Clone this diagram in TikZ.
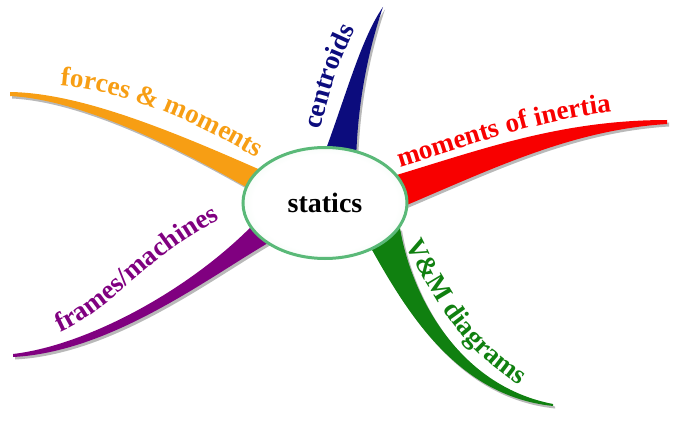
\documentclass[tikz,border=0pt]{standalone}
\usepackage{fontspec}
\setmainfont{Liberation Serif}
\usetikzlibrary{decorations.text,shapes.geometric}
\definecolor{cOrange}{RGB}{247,158,20}
\definecolor{cNavy}{RGB}{12,12,125}
\definecolor{cRed}{RGB}{248,0,0}
\definecolor{cGreen}{RGB}{16,128,16}
\definecolor{cPurple}{RGB}{128,0,128}
\definecolor{cRim}{RGB}{90,185,120}
\definecolor{cCore}{RGB}{190,230,200}
\definecolor{cShade}{RGB}{185,185,185}
\pgfdeclareradialshading{hubshade}{\pgfpoint{0bp}{0bp}}{color(0bp)=(white); color(22bp)=(white); color(50bp)=(cCore)}
\newcommand\labfont{\fontsize{27.2}{30}\selectfont\bfseries}
\newcommand\bandOrange{(10,92) .. controls (80,93) and (170,130) .. (265,172) -- (265,198) .. controls (200,160) and (90,100) .. (10,96) -- cycle}
\newcommand\bandNavy{(383,7) .. controls (360,40) and (345,100) .. (320,165) -- (356,165) .. controls (357,100) and (370,45) .. (383,7) -- cycle}
\newcommand\bandRed{(390,177) .. controls (480,150) and (560,120) .. (667,120) -- (667,124) .. controls (570,130) and (490,170) .. (395,210) -- cycle}
\newcommand\bandGreen{(362,232) .. controls (400,300) and (450,395) .. (553,406) -- (553,404) .. controls (455,385) and (410,290) .. (400,228) -- cycle}
\newcommand\bandPurple{(13,354) .. controls (90,345) and (200,285) .. (265,212) -- (268,243) .. controls (205,280) and (110,352) .. (13,357) -- cycle}
\begin{document}
\begin{tikzpicture}[x=1pt,y=-1pt,
  shadowband/.style={fill=cShade, xshift=2pt, yshift=-2.5pt},
  branchtext/.style={decorate, decoration={text along path, text align=left, text color=#1}},
  hub/.style={ellipse, draw=cRim, line width=3pt, shading=hubshade, minimum width=164pt, minimum height=111pt, inner sep=0pt}]
\useasboundingbox (0,0) rectangle (688,425);
% shadows
\fill[shadowband] \bandOrange;
\fill[shadowband] \bandNavy;
\fill[shadowband] \bandRed;
\fill[shadowband] \bandGreen;
\fill[shadowband] \bandPurple;
% bands
\fill[cOrange] \bandOrange;
\fill[cNavy] \bandNavy;
\fill[cRed] \bandRed;
\fill[cGreen] \bandGreen;
\fill[cPurple] \bandPurple;
% labels along the branches
\path[branchtext=cOrange, decoration={text={|\labfont|forces {\&} moments}}]
  (60,86) .. controls (130,92) and (200,122) .. (280,172);
\path[branchtext=cNavy, decoration={text={|\labfont|centroids}}]
  (321,130) .. controls (328,95) and (340,55) .. (362,18);
\path[branchtext=cRed, decoration={text={|\labfont|moments of inertia}}]
  (400,167) .. controls (470,146) and (540,118) .. (630,110);
\path[branchtext=cGreen, decoration={text={|\labfont|V{\&}M diagrams}}]
  (406,244) .. controls (428,290) and (460,352) .. (530,392);
\path[branchtext=cPurple, decoration={text={|\labfont|frames/machines}}]
  (60,332) .. controls (120,305) and (150,250) .. (235,212);
% hub
\node[hub] (statics) at (325,203) {\fontsize{28}{30}\selectfont\bfseries statics};
\end{tikzpicture}
\end{document}
